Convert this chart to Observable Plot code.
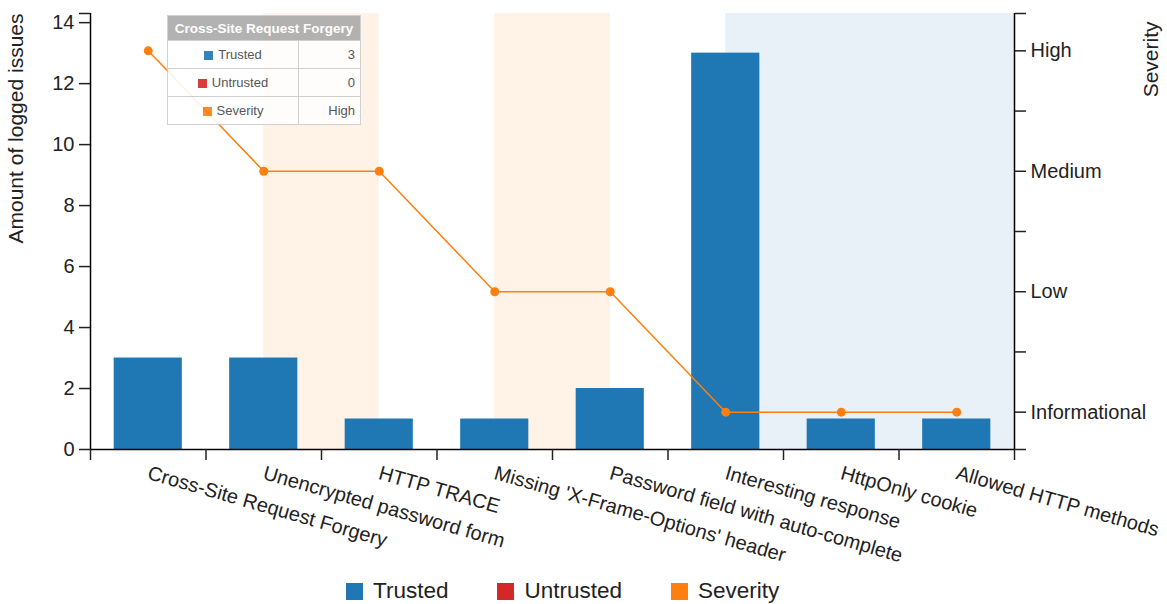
<!DOCTYPE html>
<html><head><meta charset="utf-8">
<script src="https://cdn.jsdelivr.net/npm/d3@7"></script>
<script src="https://cdn.jsdelivr.net/npm/@observablehq/plot@0.6"></script>
<style>
body{margin:0;background:#fff;font-family:"Liberation Sans",Arial,sans-serif;}
#wrap{position:relative;width:1167px;height:604px;overflow:hidden;}
#tooltip{position:absolute;left:167px;top:15px;opacity:0.9;}
#tooltip table{border-collapse:collapse;background:#fff;font-size:13px;color:#444;}
#tooltip th{background:#aaa;color:#fff;font-weight:bold;font-size:13.5px;height:24px;padding:0 5px;border:1px solid #ccc;text-align:center;}
#tooltip td{height:27px;border:1px solid #ccc;padding:0 5px;}
#tooltip td.name{width:120px;text-align:center;}
#tooltip td.value{width:51px;text-align:right;}
#tooltip .sw{display:inline-block;width:9px;height:9px;margin-right:5px;vertical-align:-1px;}
#legend{position:absolute;top:578px;left:346px;display:flex;align-items:center;font-size:22.5px;color:#222;}
#legend .item{display:flex;align-items:center;margin-right:49px;}
#legend .sw{width:17px;height:17px;margin-right:10px;}
</style></head>
<body><div id="wrap"><div id="chart"></div><div id="tooltip"></div><div id="legend"></div></div>
<script>
const categories = ["Cross-Site Request Forgery","Unencrypted password form","HTTP TRACE","Missing 'X-Frame-Options' header","Password field with auto-complete","Interesting response","HttpOnly cookie","Allowed HTTP methods"];
const trusted = [3,3,1,1,2,13,1,1];
const untrusted = [0,0,0,0,0,0,0,0];
const severity = [4,3,3,2,2,1,1,1];
const severityNames = {1:"Informational",2:"Low",3:"Medium",4:"High"};
const yTicks = [0,2,4,6,8,10,12,14];
const sevTicks = [1,1.5,2,2.5,3,3.5,4];
const regions = [
  {start:1,end:2,color:"#ff7f0e"},
  {start:3,end:4,color:"#ff7f0e"},
  {start:5,end:7.5,color:"#1f77b4"}
];
const seriesNames = ["Trusted","Untrusted","Severity"];
const seriesColors = ["#1f77b4","#d62728","#ff7f0e"];

const yMax = 14.3, sevMin = 0.69, sevMax = 4.31;
const sy = s => (s - sevMin) * yMax / (sevMax - sevMin);
const data = categories.map((c,i)=>({i, cat:c, trusted:trusted[i], untrusted:untrusted[i], sev:severity[i]}));
const blank = () => "";

const chart = Plot.plot({
  width:1167, height:568,
  marginLeft:90, marginRight:153, marginTop:13, marginBottom:119,
  style:{fontFamily:"'Liberation Sans',Arial,sans-serif", fontSize:"20px", color:"#222", background:"#fff"},
  x:{type:"linear", domain:[-0.5,7.5]},
  y:{domain:[0,yMax]},
  marks:[
    Plot.rect(regions,{x1:"start",x2:"end",fill:d=>d.color,fillOpacity:0.1}),
    Plot.rect(data,{x1:d=>d.i-0.295,x2:d=>d.i+0.295,y1:0,y2:"trusted",fill:seriesColors[0]}),
    Plot.rect(data,{x1:d=>d.i-0.295,x2:d=>d.i+0.295,y1:"trusted",y2:d=>d.trusted+d.untrusted,fill:seriesColors[1]}),
    Plot.line(data,{x:"i",y:d=>sy(d.sev),stroke:seriesColors[2],strokeWidth:1.5}),
    Plot.dot(data,{x:"i",y:d=>sy(d.sev),r:4.5,fill:seriesColors[2]}),
    Plot.ruleX([-0.5,7.5],{stroke:"#000",strokeWidth:1.5}),
    Plot.ruleY([0],{stroke:"#000",strokeWidth:1.5}),
    Plot.axisY(yTicks,{anchor:"left",tickSize:11,tickPadding:5,strokeWidth:1.5,label:null}),
    Plot.axisY([yMax],{anchor:"left",tickSize:11,tickFormat:blank,strokeWidth:1.5,label:null}),
    Plot.axisY(sevTicks.map(sy),{anchor:"right",tickSize:11,tickPadding:5,strokeWidth:1.5,label:null,
      tickFormat:v=>{const s=Math.round((v*(sevMax-sevMin)/yMax+sevMin)*2)/2;return severityNames[s]||"";}}),
    Plot.axisY([0,yMax],{anchor:"right",tickSize:11,tickFormat:blank,strokeWidth:1.5,label:null}),
    Plot.axisX(d3.range(-0.5,8,1),{anchor:"bottom",tickSize:11,tickFormat:blank,strokeWidth:1.5,label:null}),
    Plot.axisX(d3.range(0,8),{anchor:"bottom",tickSize:0,tickPadding:23,tickRotate:16,tickFormat:i=>categories[i],label:null}),
    Plot.text(["Amount of logged issues"],{frameAnchor:"top-left",text:d=>d,rotate:-90,textAnchor:"end",dx:-82,fontSize:21}),
    Plot.text(["Severity"],{frameAnchor:"top-right",text:d=>d,rotate:-90,textAnchor:"end",dx:129,dy:8,fontSize:21})
  ]
});
document.getElementById("chart").appendChild(chart);

// tooltip for the first category
const t = data[0];
const vals = [t.trusted, t.untrusted, severityNames[t.sev]];
document.getElementById("tooltip").innerHTML =
  `<table><tr><th colspan="2">${t.cat}</th></tr>` +
  seriesNames.map((n,k)=>`<tr><td class="name"><span class="sw" style="background:${seriesColors[k]}"></span>${n}</td><td class="value">${vals[k]}</td></tr>`).join("") +
  `</table>`;

// legend
document.getElementById("legend").innerHTML = seriesNames.map((n,k)=>
  `<div class="item"><div class="sw" style="background:${seriesColors[k]}"></div>${n}</div>`).join("");
</script>
</body></html>
